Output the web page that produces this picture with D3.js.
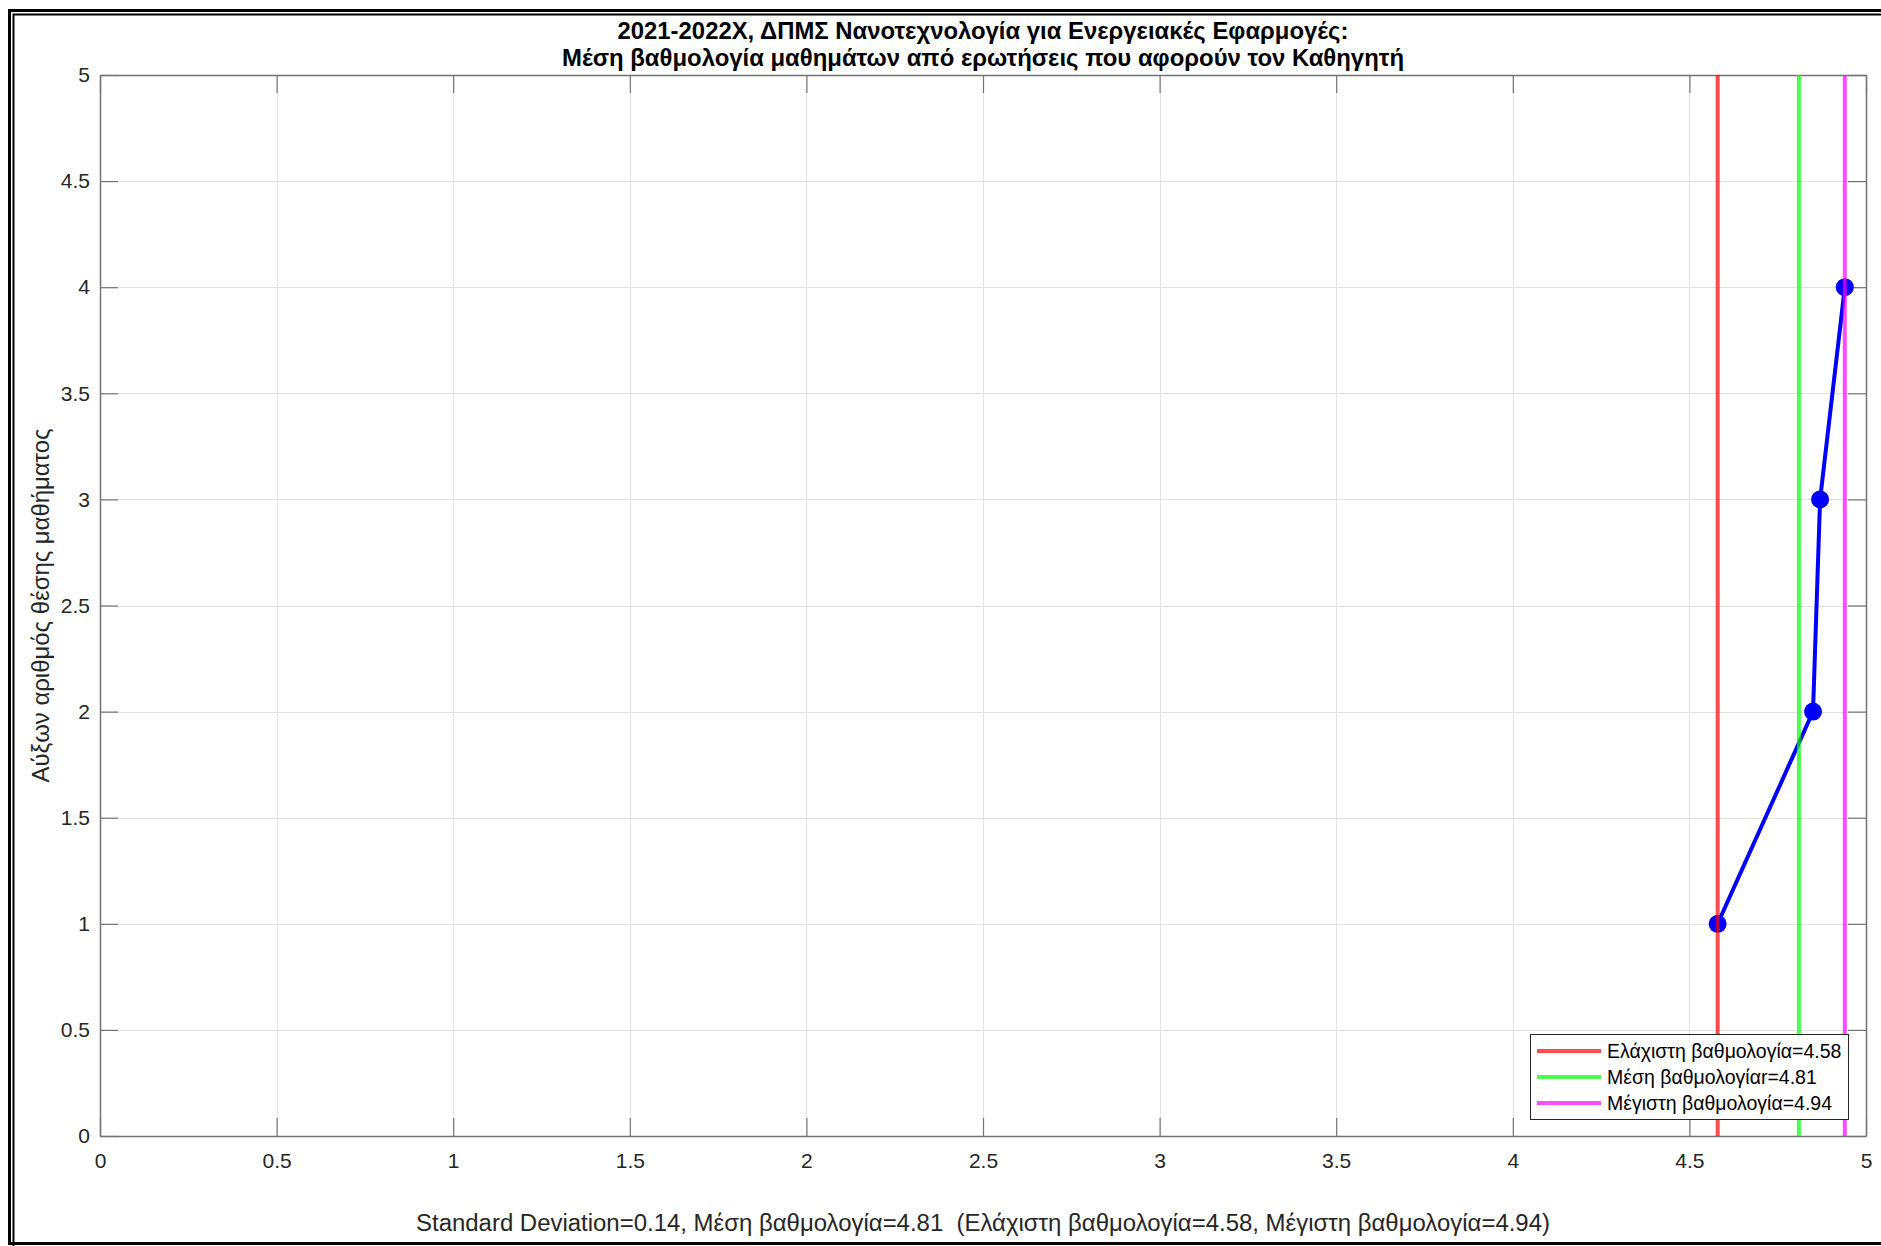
<!DOCTYPE html>
<html>
<head>
<meta charset="utf-8">
<script src="https://cdn.jsdelivr.net/npm/d3@7"></script>
<style>
  html, body { margin: 0; padding: 0; background: #fff; }
  svg { display: block; font-family: "Liberation Sans", Arial, sans-serif; }
</style>
</head>
<body>
<svg id="chart" width="1881" height="1246"></svg>
<script>
// Course average ratings, sorted ascending, with their rank position
const ratings = [4.58, 4.85, 4.87, 4.94];
const positions = [1, 2, 3, 4];

// Summary statistics shown as reference lines
const refLabels = ["Ελάχιστη βαθμολογία=4.58", "Μέση βαθμολογίαr=4.81", "Μέγιστη βαθμολογία=4.94"];
const refValues = [4.58, 4.81, 4.94];
const refColors = ["#ff4d4d", "#4dff4d", "#ff4dff"];

const xTicks = [0, 0.5, 1, 1.5, 2, 2.5, 3, 3.5, 4, 4.5, 5];
const yTicks = [0, 0.5, 1, 1.5, 2, 2.5, 3, 3.5, 4, 4.5, 5];

const titleLines = [
  "2021-2022Χ, ΔΠΜΣ Νανοτεχνολογία για Ενεργειακές Εφαρμογές:",
  "Μέση βαθμολογία μαθημάτων από ερωτήσεις που αφορούν τον Καθηγητή"
];
const yLabel = "Αύξων αριθμός θέσης μαθήματος";
const xLabel = "Standard Deviation=0.14, Μέση βαθμολογία=4.81  (Ελάχιστη βαθμολογία=4.58, Μέγιστη βαθμολογία=4.94)";

const svg = d3.select("#chart");
const W = 1881, H = 1246;
const plot = { left: 100, right: 1866, top: 75, bottom: 1136 };

const x = d3.scaleLinear().domain([0, 5]).range([plot.left, plot.right]);
const y = d3.scaleLinear().domain([0, 5]).range([plot.bottom, plot.top]);

// Double frame around the figure
svg.append("rect").attr("x", 9.5).attr("y", 10.5).attr("width", W + 20).attr("height", 1233)
  .attr("fill", "none").attr("stroke", "#000").attr("stroke-width", 3);
svg.append("rect").attr("x", 13.5).attr("y", 14.5).attr("width", W + 20).attr("height", 1240)
  .attr("fill", "none").attr("stroke", "#000").attr("stroke-width", 2);

// Grid
const grid = svg.append("g").attr("stroke", "#e3e3e3").attr("stroke-width", 1);
grid.selectAll(".gx").data(xTicks.slice(1, -1)).join("line")
  .attr("x1", d => Math.round(x(d)) + 0.5).attr("x2", d => Math.round(x(d)) + 0.5)
  .attr("y1", plot.top).attr("y2", plot.bottom);
grid.selectAll(".gy").data(yTicks.slice(1, -1)).join("line")
  .attr("y1", d => Math.round(y(d)) + 0.5).attr("y2", d => Math.round(y(d)) + 0.5)
  .attr("x1", plot.left).attr("x2", plot.right);

// Axes (ticks point inward, mirrored on top and right)
const tickLen = 18;
const axisColor = "#737373";
const textColor = "#262626";

const xAxis = svg.append("g").attr("transform", `translate(0,${plot.bottom})`)
  .call(d3.axisBottom(x).tickValues(xTicks).tickFormat(d3.format("")).tickSizeInner(-tickLen).tickSizeOuter(0));
const yAxis = svg.append("g").attr("transform", `translate(${plot.left},0)`)
  .call(d3.axisLeft(y).tickValues(yTicks).tickFormat(d3.format("")).tickSizeInner(-tickLen).tickSizeOuter(0));
const xTop = svg.append("g").attr("transform", `translate(0,${plot.top})`)
  .call(d3.axisTop(x).tickValues(xTicks).tickFormat("").tickSizeInner(-tickLen).tickSizeOuter(0));
const yRight = svg.append("g").attr("transform", `translate(${plot.right},0)`)
  .call(d3.axisRight(y).tickValues(yTicks).tickFormat("").tickSizeInner(-tickLen).tickSizeOuter(0));

[xAxis, yAxis, xTop, yRight].forEach(g => {
  g.selectAll(".domain").attr("stroke", axisColor).attr("stroke-width", 1.5);
  g.selectAll(".tick line").attr("stroke", axisColor).attr("stroke-width", 1.2);
  g.selectAll("text").attr("fill", textColor).style("font-size", "21px")
    .style("font-family", "'Liberation Sans', Arial, sans-serif");
});
xAxis.selectAll("text").attr("dy", "0.71em").attr("y", 17);
yAxis.selectAll("text").attr("x", -10);

// Ratings line with markers
const pts = ratings.map((r, i) => [r, positions[i]]);
svg.append("path").datum(pts)
  .attr("fill", "none").attr("stroke", "#0000ff").attr("stroke-width", 4)
  .attr("d", d3.line().x(d => x(d[0])).y(d => y(d[1])));
svg.append("g").selectAll("circle").data(pts).join("circle")
  .attr("cx", d => x(d[0])).attr("cy", d => y(d[1])).attr("r", 9)
  .attr("fill", "#0000ff");

// Reference lines (min / mean / max), drawn semi-transparent over the data
svg.append("g").selectAll("line").data(refValues).join("line")
  .attr("x1", d => x(d)).attr("x2", d => x(d))
  .attr("y1", plot.top).attr("y2", plot.bottom)
  .attr("stroke", (d, i) => ["#ff0000", "#00ff00", "#ff00ff"][i])
  .attr("stroke-opacity", 0.7).attr("stroke-width", 4);

// Legend
const lg = svg.append("g");
const lgX = 1530, lgY = 1034, lgW = 318, lgH = 85;
lg.append("rect").attr("x", lgX + 0.5).attr("y", lgY + 0.5).attr("width", lgW).attr("height", lgH)
  .attr("fill", "#fff").attr("stroke", "#262626").attr("stroke-width", 1);
refLabels.forEach((t, i) => {
  const cy = lgY + 17 + i * 26;
  lg.append("line").attr("x1", lgX + 7).attr("x2", lgX + 71).attr("y1", cy).attr("y2", cy)
    .attr("stroke", refColors[i]).attr("stroke-width", 4);
  lg.append("text").attr("x", lgX + 77).attr("y", cy).attr("dy", "0.35em")
    .attr("fill", "#000").style("font-size", "19.5px").text(t);
});

// Titles and labels
const titleWidths = [731, 842];
svg.append("g").selectAll("text").data(titleLines).join("text")
  .attr("x", 983).attr("y", (d, i) => 39 + i * 27)
  .attr("text-anchor", "middle").attr("font-weight", "bold").style("font-size", "23px")
  .attr("textLength", (d, i) => titleWidths[i]).attr("lengthAdjust", "spacingAndGlyphs")
  .attr("fill", "#000").text(d => d);

svg.append("text")
  .attr("transform", `translate(49,${(plot.top + plot.bottom) / 2}) rotate(-90)`)
  .attr("text-anchor", "middle").style("font-size", "23px").attr("fill", textColor)
  .attr("textLength", 354).attr("lengthAdjust", "spacingAndGlyphs")
  .text(yLabel);

svg.append("text").attr("x", 983).attr("y", 1231)
  .attr("text-anchor", "middle").style("font-size", "23px").style("white-space", "pre")
  .attr("xml:space", "preserve").attr("fill", textColor)
  .attr("textLength", 1134).attr("lengthAdjust", "spacingAndGlyphs")
  .text(xLabel);
</script>
</body>
</html>
